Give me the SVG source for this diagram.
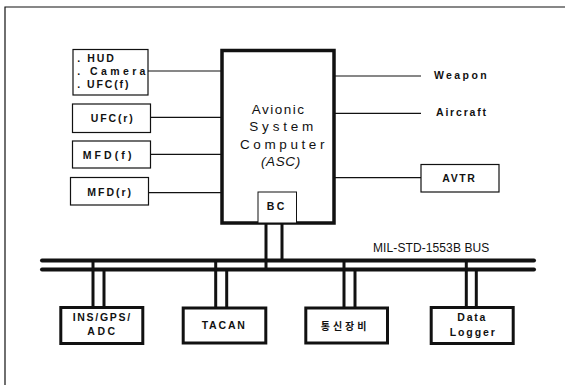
<svg xmlns="http://www.w3.org/2000/svg" width="569" height="385" viewBox="0 0 569 385">
<style>
.thin{fill:#fff;stroke:#111;stroke-width:1.2}
.thick{fill:#fff;stroke:#111;stroke-width:3}
.ln{fill:none;stroke:#111;stroke-width:1.2}
.bus{fill:none;stroke:#111;stroke-width:4;stroke-linecap:round}
.stub{fill:none;stroke:#111;stroke-width:3}
.b{font-family:"Liberation Sans",Arial,sans-serif;font-weight:bold;font-size:10.5px;fill:#111}
.r{font-family:"Liberation Sans",Arial,sans-serif;font-size:13.5px;fill:#111}
.k{font-family:"Liberation Sans","Noto Sans CJK KR",sans-serif;font-weight:bold;font-size:10px;fill:#111}
</style>
<rect width="569" height="385" fill="#fff"/>
<path d="M5,385 V7 H565" class="ln"/>

<g id="connectors">
  <line x1="148" y1="71" x2="222" y2="71" class="ln"/>
  <line x1="151" y1="117.3" x2="222" y2="117.3" class="ln"/>
  <line x1="151" y1="154.3" x2="222" y2="154.3" class="ln"/>
  <line x1="149" y1="192.7" x2="222" y2="192.7" class="ln"/>
  <line x1="334" y1="76" x2="421" y2="76" class="ln"/>
  <line x1="334" y1="113.3" x2="421" y2="113.3" class="ln"/>
  <line x1="334" y1="177.7" x2="421" y2="177.7" class="ln"/>
  <line x1="42" y1="260.5" x2="534" y2="260.5" class="bus"/>
  <line x1="42" y1="269.5" x2="534" y2="269.5" class="bus"/>
  <line x1="266" y1="223" x2="266" y2="269.5" class="stub"/>
  <line x1="282" y1="223" x2="282" y2="260.5" class="stub"/>
  <line x1="93" y1="260.5" x2="93" y2="307" class="stub"/>
  <line x1="104" y1="269.5" x2="104" y2="307" class="stub"/>
  <line x1="215.7" y1="260.5" x2="215.7" y2="307" class="stub"/>
  <line x1="226.7" y1="269.5" x2="226.7" y2="307" class="stub"/>
  <line x1="344" y1="260.5" x2="344" y2="307" class="stub"/>
  <line x1="355" y1="269.5" x2="355" y2="307" class="stub"/>
  <line x1="466.3" y1="260.5" x2="466.3" y2="307" class="stub"/>
  <line x1="476.3" y1="269.5" x2="476.3" y2="307" class="stub"/>
  <text x="373" y="252.3" font-family="'Liberation Sans',Arial,sans-serif" font-size="12" letter-spacing="0.1" fill="#111">MIL-STD-1553B BUS</text>
</g>

<g id="hud">
  <rect x="73" y="49.5" width="75" height="45.5" class="thin"/>
  <text x="77.3" y="61.5" class="b" font-size="10" letter-spacing="2">. HUD</text>
  <text x="77.3" y="74.5" class="b" font-size="10" letter-spacing="3.4">. Camera</text>
  <text x="77.3" y="88" class="b" font-size="10" letter-spacing="1.9">. UFC(f)</text>
</g>
<g id="ufcr">
  <rect x="72.5" y="104" width="78" height="28.5" class="thin"/>
  <text x="90.7" y="122" class="b" letter-spacing="1.9">UFC(r)</text>
</g>
<g id="mfdf">
  <rect x="72.5" y="141" width="78" height="27" class="thin"/>
  <text x="82.7" y="159" class="b" letter-spacing="3.1">MFD(f)</text>
</g>
<g id="mfdr">
  <rect x="70.5" y="177.5" width="78" height="27.5" class="thin"/>
  <text x="87.3" y="195.5" class="b" letter-spacing="2">MFD(r)</text>
</g>

<g id="asc">
  <rect x="222" y="50.5" width="112" height="172.5" fill="#fff" stroke="#111" stroke-width="3.5"/>
  <text x="251.7" y="114" class="r" letter-spacing="1.5">Avionic</text>
  <text x="249.3" y="131" class="r" letter-spacing="3.8">System</text>
  <text x="240" y="149" class="r" letter-spacing="3.6">Computer</text>
  <text x="261" y="165.5" class="r" font-style="italic" letter-spacing="0.6">(ASC)</text>
</g>
<g id="bc">
  <rect x="258" y="192" width="38.5" height="31" fill="#fff" stroke="#111" stroke-width="1"/>
  <text x="266.7" y="210" class="b" font-size="11.5" letter-spacing="2.6">BC</text>
</g>

<g id="weapon">
  <text x="434" y="79.3" class="b" font-size="10" letter-spacing="2.4">Weapon</text>
</g>
<g id="aircraft">
  <text x="436" y="116" class="b" font-size="10" letter-spacing="1.8">Aircraft</text>
</g>
<g id="avtr">
  <rect x="421" y="164.5" width="78" height="27.5" class="thin"/>
  <text x="442.3" y="181.7" class="b" letter-spacing="1.6">AVTR</text>
</g>

<g id="ins">
  <rect x="60.8" y="307.5" width="82" height="36" class="thick"/>
  <text x="72.7" y="321" class="b" letter-spacing="1.7">INS/GPS/</text>
  <text x="87.3" y="335" class="b" letter-spacing="2.5">ADC</text>
</g>
<g id="tacan">
  <rect x="183.2" y="308" width="82.6" height="35" class="thick"/>
  <text x="201.7" y="329.3" class="b" letter-spacing="1.8">TACAN</text>
</g>
<g id="comm">
  <rect x="305.8" y="308" width="81.7" height="35" class="thick"/>
  <text x="320.7" y="329.5" class="k" letter-spacing="3">통신장비</text>
</g>
<g id="logger">
  <rect x="431.2" y="307.5" width="82" height="36" class="thick"/>
  <text x="457.3" y="321" class="b" letter-spacing="1.8">Data</text>
  <text x="449.7" y="335.7" class="b" letter-spacing="1.9">Logger</text>
</g>
</svg>
